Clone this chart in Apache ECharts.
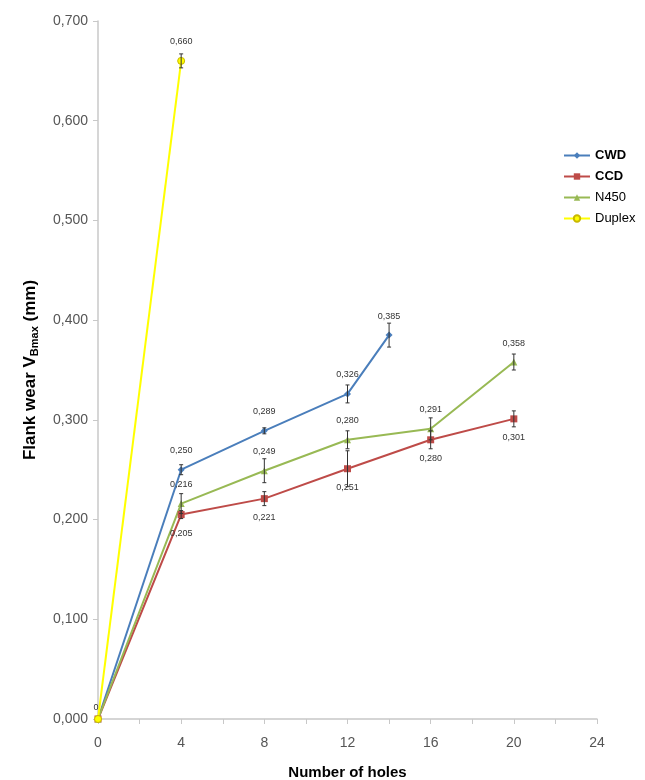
<!DOCTYPE html>
<html>
<head>
<meta charset="utf-8">
<script src="https://cdn.jsdelivr.net/npm/echarts@6/dist/echarts.min.js"></script>
<style>
  html, body { margin: 0; padding: 0; background: #fff; }
  #chart { width: 645px; height: 780px; }
</style>
</head>
<body>
<div id="chart"></div>
<script>
// values (x = number of holes, y = VBmax in mm)
const cwdX = [0, 4, 8, 12, 14]
const cwdY = [0, 0.250, 0.289, 0.326, 0.385]
const cwdErr = [0, 0.005, 0.003, 0.009, 0.012]

const ccdX = [0, 4, 8, 12, 16, 20]
const ccdY = [0, 0.205, 0.221, 0.251, 0.280, 0.301]
const ccdErr = [0, 0.004, 0.007, 0.018, 0.009, 0.008]

const n450X = [0, 4, 8, 12, 16, 20]
const n450Y = [0, 0.216, 0.249, 0.280, 0.291, 0.358]
const n450Err = [0, 0.010, 0.012, 0.009, 0.011, 0.008]

const duplexX = [0, 4]
const duplexY = [0, 0.660]
const duplexErr = [0, 0.007]

const fmt = v => v === 0 ? '0' : v.toFixed(3).replace('.', ',')
const font = "'Liberation Sans Narrow', 'Liberation Sans', Arial, sans-serif"

function lineSeries(name, xs, ys, color, symbol, labelPos, showZero) {
  return {
    name,
    type: 'line',
    data: xs.map((x, i) => ({
      value: [x, ys[i]],
      label: ys[i] === 0 ? { show: showZero, distance: 3, offset: [-2, 0] } : { show: true }
    })),
    symbol,
    symbolSize: 7,
    lineStyle: { color, width: 2 },
    itemStyle: { color, borderColor: name === 'Duplex' ? '#c9b800' : color, borderWidth: name === 'Duplex' ? 1 : 0 },
    label: {
      position: labelPos,
      distance: 11,
      fontSize: 9,
      fontFamily: font,
      color: '#333',
      formatter: p => fmt(p.value[1])
    },
    z: 3
  }
}

function errSeries(xs, ys, errs) {
  return {
    type: 'custom',
    silent: true,
    z: 4,
    data: xs.map((x, i) => [x, ys[i] - errs[i], ys[i] + errs[i]]).filter((d, i) => errs[i] > 0),
    renderItem(params, api) {
      const lo = api.coord([api.value(0), api.value(1)])
      const hi = api.coord([api.value(0), api.value(2)])
      const w = 2
      const style = { stroke: '#333', lineWidth: 1 }
      return {
        type: 'group',
        children: [
          { type: 'line', shape: { x1: lo[0], y1: lo[1], x2: hi[0], y2: hi[1] }, style },
          { type: 'line', shape: { x1: lo[0] - w, y1: lo[1], x2: lo[0] + w, y2: lo[1] }, style },
          { type: 'line', shape: { x1: hi[0] - w, y1: hi[1], x2: hi[0] + w, y2: hi[1] }, style }
        ]
      }
    }
  }
}

const chart = echarts.init(document.getElementById('chart'))
chart.setOption({
  animation: false,
  backgroundColor: '#fff',
  grid: { left: 98, right: 48, top: 21, bottom: 61, outerBoundsMode: 'none', containLabel: false },
  legend: {
    orient: 'vertical',
    left: 558,
    top: 144,
    itemWidth: 26,
    itemHeight: 8,
    itemGap: 8,
    data: ['CWD', 'CCD', 'N450', 'Duplex'],
    formatter: n => (n === 'CWD' || n === 'CCD') ? `{b|${n}}` : `{n|${n}}`,
    textStyle: {
      color: '#000',
      rich: {
        b: { fontWeight: 'bold', fontSize: 13, fontFamily: 'Arial, sans-serif', color: '#000' },
        n: { fontSize: 13, fontFamily: font, color: '#000' }
      }
    }
  },
  xAxis: {
    type: 'value',
    min: 0, max: 24, interval: 2,
    name: 'Number of holes',
    nameLocation: 'middle',
    nameGap: 46,
    nameTextStyle: { fontSize: 15, fontWeight: 'bold', fontFamily: font, color: '#000' },
    axisLine: { lineStyle: { color: '#c8c8c8', width: 1.5 } },
    axisTick: { lineStyle: { color: '#c8c8c8' }, length: 5 },
    splitLine: { show: false },
    axisLabel: {
      fontSize: 14, fontFamily: font, color: '#555', margin: 17,
      formatter: v => v % 4 === 0 ? String(v) : ''
    }
  },
  yAxis: {
    type: 'value',
    min: 0, max: 0.7, interval: 0.1,
    name: 'Flank wear V{sub|Bmax} (mm)',
    nameLocation: 'middle',
    nameGap: 58,
    nameTextStyle: {
      fontSize: 17, fontWeight: 'bold', fontFamily: 'Arial, sans-serif', color: '#000',
      rich: { sub: { fontSize: 11, fontWeight: 'bold', fontFamily: 'Arial, sans-serif', verticalAlign: 'bottom', padding: [8, 0, 0, 0] } }
    },
    axisLine: { show: true, lineStyle: { color: '#c8c8c8', width: 1.5 } },
    axisTick: { show: true, lineStyle: { color: '#c8c8c8' }, length: 5 },
    splitLine: { show: false },
    axisLabel: {
      fontSize: 14, fontFamily: font, color: '#555', margin: 10,
      formatter: v => v.toFixed(3).replace('.', ',')
    }
  },
  series: [
    lineSeries('CWD', cwdX, cwdY, '#4a7ebb', 'diamond', 'top', false),
    lineSeries('CCD', ccdX, ccdY, '#be4b48', 'rect', 'bottom', false),
    lineSeries('N450', n450X, n450Y, '#98b954', 'triangle', 'top', false),
    lineSeries('Duplex', duplexX, duplexY, '#ffff00', 'circle', 'top', true),
    errSeries(cwdX, cwdY, cwdErr),
    errSeries(ccdX, ccdY, ccdErr),
    errSeries(n450X, n450Y, n450Err),
    errSeries(duplexX, duplexY, duplexErr)
  ]
})
</script>
</body>
</html>
